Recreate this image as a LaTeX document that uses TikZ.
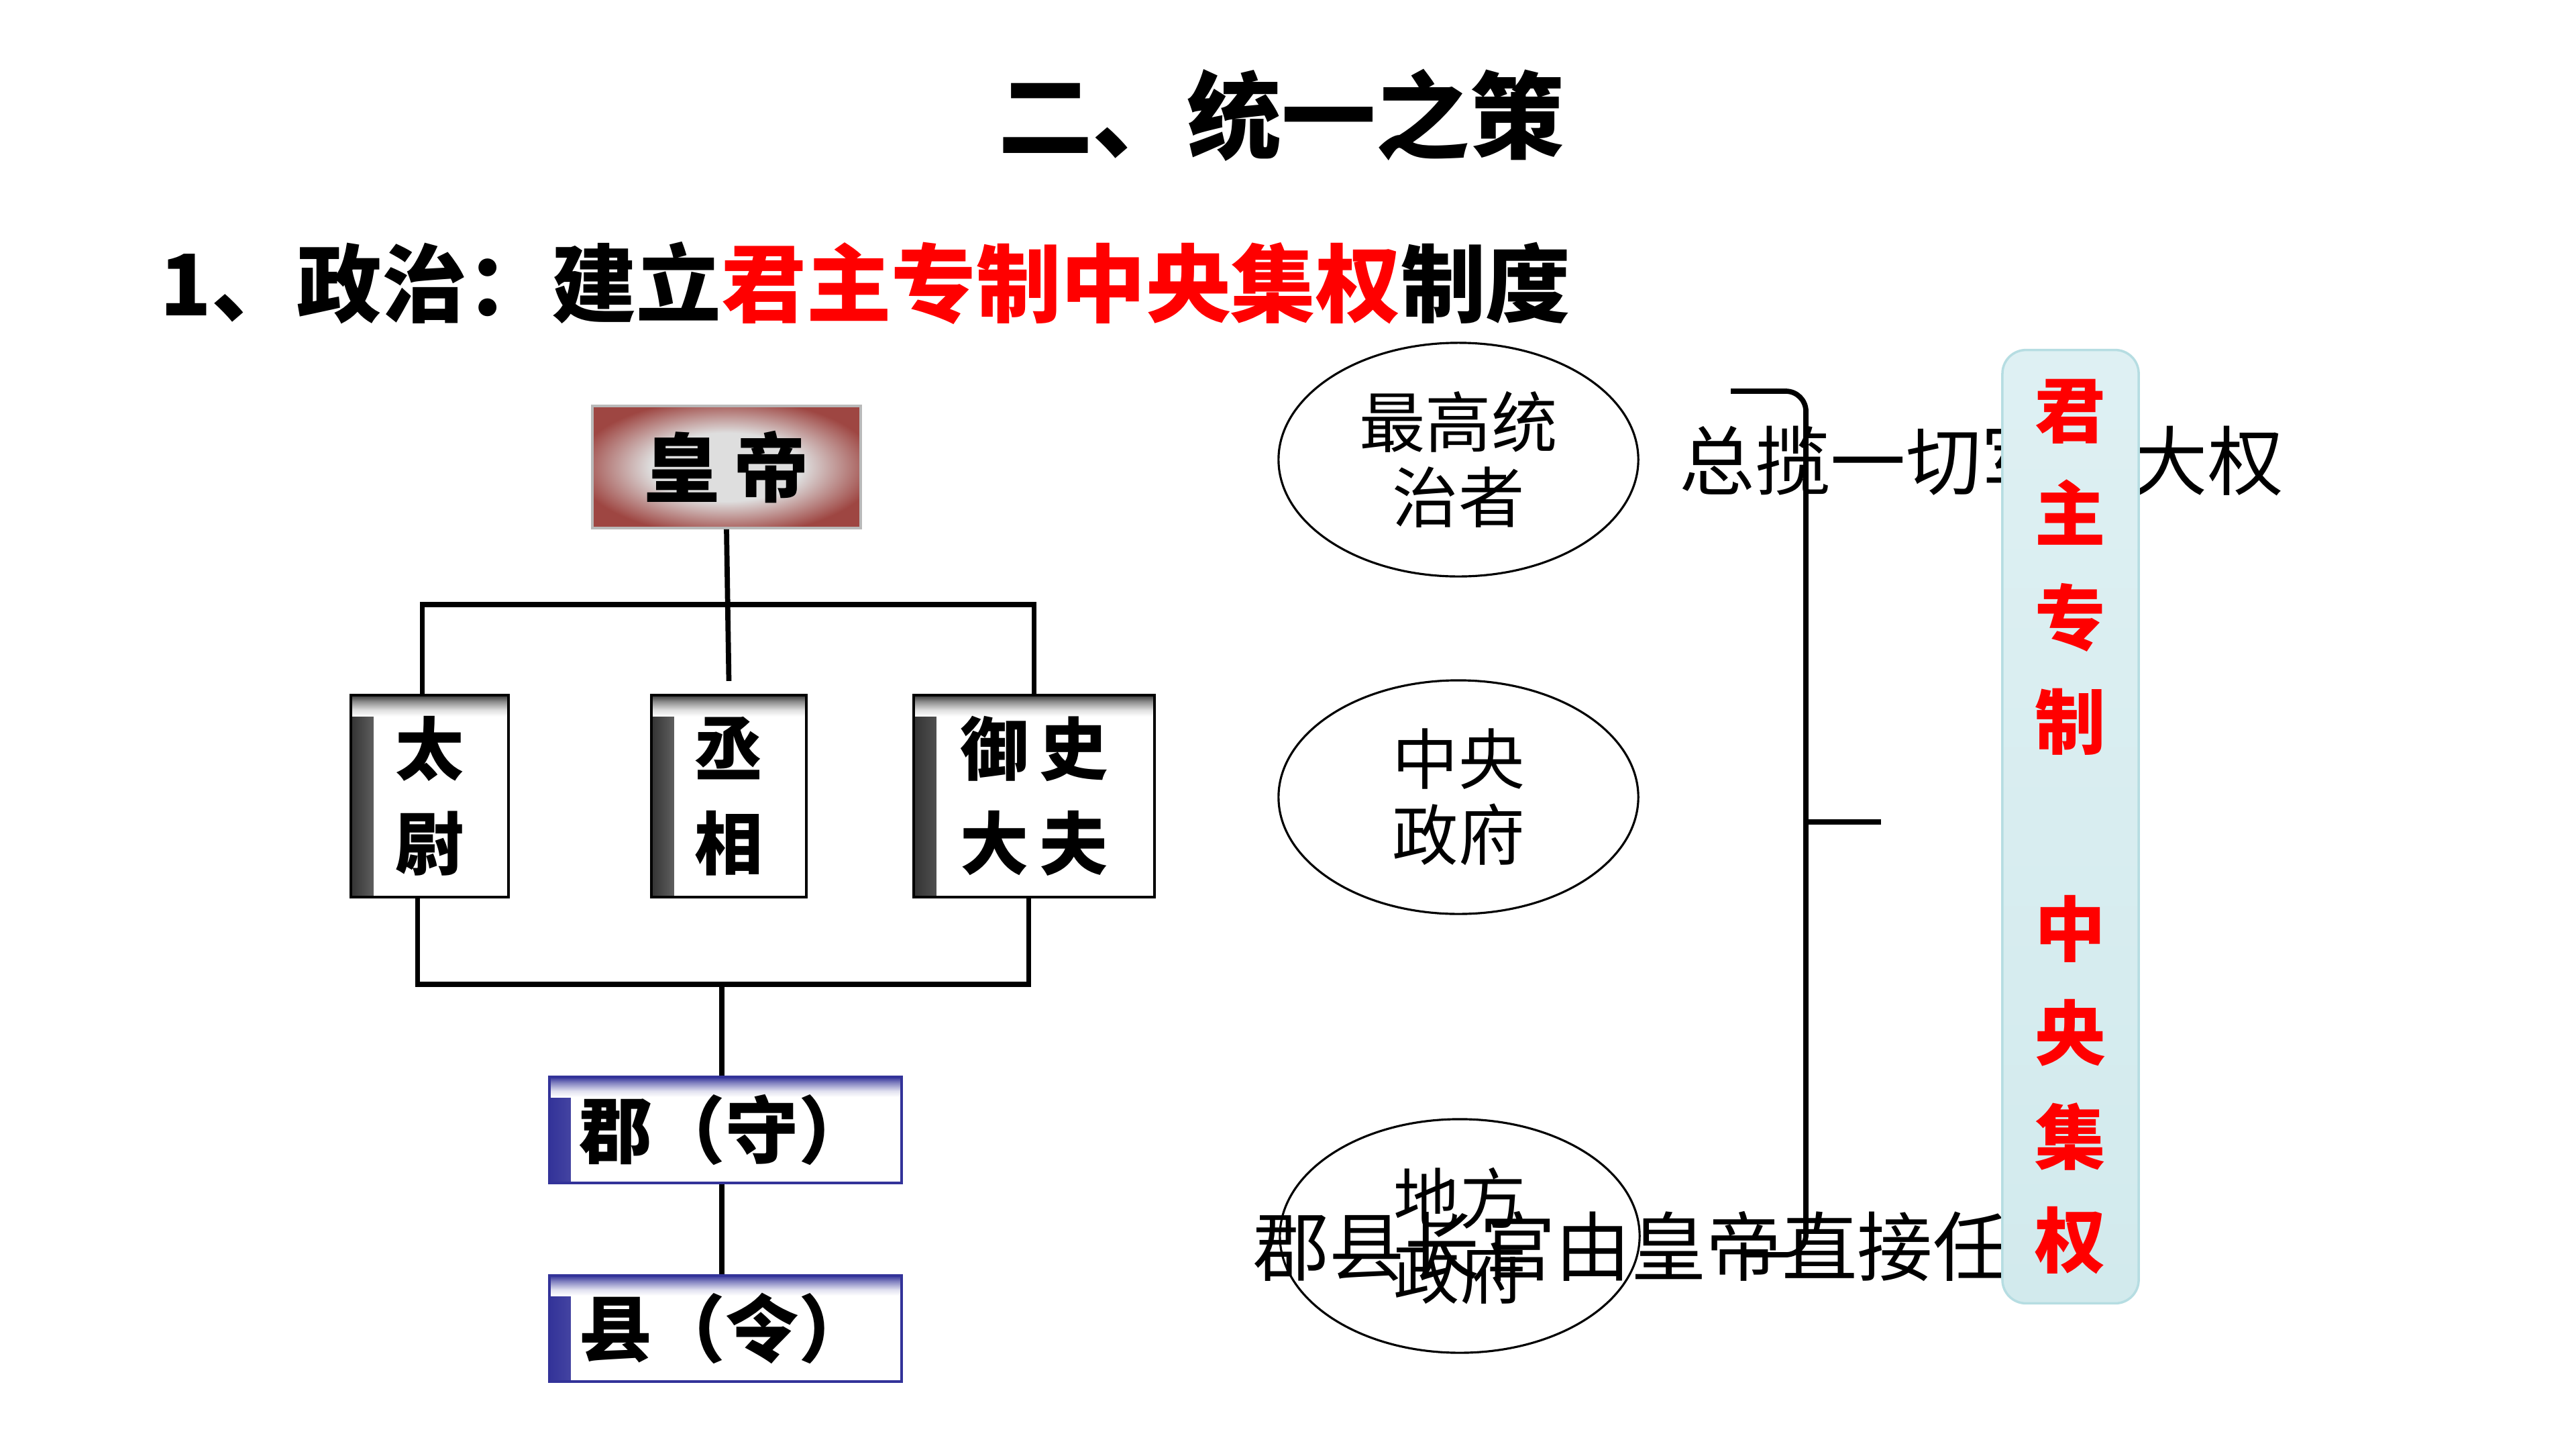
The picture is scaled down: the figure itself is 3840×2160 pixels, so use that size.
\documentclass[tikz,border=0pt]{standalone}
\usepackage{fontspec}
\usetikzlibrary{shapes.geometric}
\newfontfamily\cjk{Noto Sans CJK SC}
\definecolor{hdred}{RGB}{158,70,66}
\definecolor{hdlight}{RGB}{222,222,222}
\definecolor{jblue}{RGB}{51,51,153}
\definecolor{boxfill}{RGB}{222,240,243}
\definecolor{boxfillb}{RGB}{210,234,237}
\definecolor{boxedge}{RGB}{182,221,226}
\definecolor{hired}{RGB}{255,0,0}
\pgfdeclareradialshading{hdshade}{\pgfpoint{0bp}{0bp}}{color(0bp)=(hdlight); color(14bp)=(hdlight); color(28bp)=(hdred); color(50bp)=(hdred)}
\pgfdeclarehorizontalshading{edgeh}{100bp}{color(0bp)=(black!80); color(25bp)=(black!80); color(40bp)=(black!45); color(60bp)=(black!12); color(75bp)=(white); color(100bp)=(white)}
\pgfdeclareverticalshading{edgev}{100bp}{color(0bp)=(white); color(25bp)=(white); color(40bp)=(black!12); color(60bp)=(black!45); color(75bp)=(black!80); color(100bp)=(black!80)}
\pgfdeclarehorizontalshading{edgehb}{100bp}{color(0bp)=(jblue); color(25bp)=(jblue); color(40bp)=(jblue!60); color(60bp)=(jblue!15); color(75bp)=(white); color(100bp)=(white)}
\pgfdeclareverticalshading{edgevb}{100bp}{color(0bp)=(white); color(25bp)=(white); color(40bp)=(jblue!15); color(60bp)=(jblue!60); color(75bp)=(jblue); color(100bp)=(jblue)}
\begin{document}
\begin{tikzpicture}[x=0.01cm,y=-0.01cm,
  conn/.style={line width=2.2pt},
  bracketline/.style={line width=2.2pt, rounded corners=0.3cm},
  titletxt/.style={inner sep=0pt, font=\cjk\bfseries\fontsize{40}{48}\selectfont},
  subtxt/.style={inner sep=0pt, anchor=west, font=\cjk\bfseries\fontsize{36}{42}\selectfont},
  hdbox/.style={draw=gray!55, line width=1pt, shade, shading=hdshade,
    minimum width=4cm, minimum height=1.82cm, inner sep=0pt,
    font=\cjk\bfseries\fontsize{32}{36}\selectfont},
  offbox/.style={draw=black, line width=1.2pt, fill=white, minimum height=3.01cm,
    inner sep=0pt, align=center, font=\cjk\bfseries\fontsize{29}{40}\selectfont,
    path picture={
      \shade[shading=edgeh]
        (path picture bounding box.south west) rectangle ([xshift=0.34cm]path picture bounding box.north west);
      \shade[shading=edgev]
        (path picture bounding box.north west) rectangle ([yshift=-0.32cm]path picture bounding box.north east);
    }},
  locbox/.style={draw=jblue, line width=1.1pt, fill=white, minimum width=5.25cm,
    minimum height=1.58cm, inner sep=0pt, font=\cjk\bfseries\fontsize{31}{36}\selectfont,
    path picture={
      \shade[shading=edgehb]
        (path picture bounding box.south west) rectangle ([xshift=0.32cm]path picture bounding box.north west);
      \shade[shading=edgevb]
        (path picture bounding box.north west) rectangle ([yshift=-0.3cm]path picture bounding box.north east);
    }},
  ell/.style={ellipse, draw=black, line width=0.9pt, minimum width=5.36cm,
    minimum height=3.48cm, inner sep=0pt, align=center,
    font=\cjk\fontsize{28}{32}\selectfont},
  bigtxt/.style={inner sep=0pt, anchor=west, font=\cjk\fontsize{32}{36}\selectfont},
  redbox/.style={draw=boxedge, line width=1pt, rounded corners=0.35cm,
    top color=boxfill, bottom color=boxfillb, minimum width=2.03cm,
    minimum height=14.2cm, inner sep=0pt, align=center, text=hired,
    font=\cjk\bfseries\fontsize{30}{44}\selectfont}
]
\useasboundingbox[fill=white] (0,0) rectangle (3840,2160);

% titles
\node[titletxt] (title) at (1910,172) {二、统一之策};
\node[subtxt] (sub) at (238,422) {1、政治：建立\textcolor{hired}{君主专制中央集权}制度};

% left organisation chart
\node[hdbox] (hd) at (1083,696) {皇\hspace{0.18em}帝};
\node[offbox, minimum width=2.35cm] (tw) at (640.5,1186.5) {太\\尉};
\node[offbox, minimum width=2.31cm] (cx) at (1086.5,1186.5) {丞\\相};
\node[offbox, minimum width=3.59cm] (ys) at (1541.5,1186.5) {御\hspace{0.15em}史\\大\hspace{0.15em}夫};
\node[locbox] (jun) at (1081.5,1684) {郡（守）};
\node[locbox] (xian) at (1081.5,1980) {县（令）};

\coordinate (topbar) at (0,901);
\coordinate (lowbar) at (0,1467);
\coordinate (cxtop) at ([yshift=0.19cm]cx.north);
\coordinate (twtop) at ([xshift=-0.11cm]tw.north);
\coordinate (twbot) at ([xshift=-0.18cm]tw.south);
\coordinate (ysbot) at ([xshift=-0.08cm]ys.south);
\coordinate (juntop) at ([xshift=-0.055cm]jun.north);
\coordinate (junbot) at ([xshift=-0.055cm]jun.south);
\coordinate (xiantop) at ([xshift=-0.055cm]xian.north);

\draw[conn] (hd.south) -- (cxtop);
\draw[conn] (twtop) |- (topbar -| ys.north) -- (ys.north);
\draw[conn] (twbot) |- (lowbar -| ysbot) -- (ysbot);
\draw[conn] (juntop |- lowbar) -- (juntop);
\draw[conn] (junbot) -- (xiantop);

% right side
\node[ell] (e1) at (2174,685) {最高统\\治者};
\node[ell] (e2) at (2174,1188) {中央\\政府};
\node[ell] (e3) at (2176,1842) {地方\\政府};

\node[bigtxt] (t1) at (2503,687) {总揽一切军政大权};
\node[bigtxt] (t2) at (1868,1857) {郡县长官由皇帝直接任};

\coordinate (brtop) at (2580,583);
\coordinate (brbot) at (2600,1870);
\coordinate (brmid) at (2692,1225);
\coordinate (brtip) at (2804,1225);
\draw[bracketline] (brtop) -- (2692,583) -- (2692,1870) -- (brbot);
\draw[conn] (brmid) -- (brtip);

\node[redbox] (rb) at (3086.5,1232) {君\\主\\专\\制\\[44pt]中\\央\\集\\权};
\end{tikzpicture}
\end{document}
